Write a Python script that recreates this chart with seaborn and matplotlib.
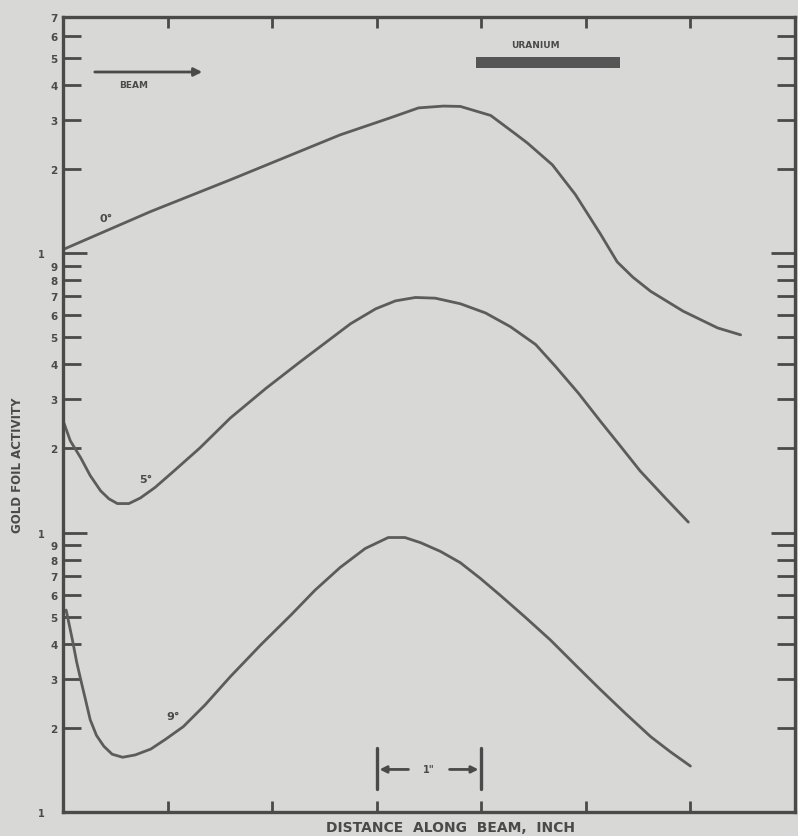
import numpy as np
import pandas as pd
import matplotlib
matplotlib.use("Agg")
import matplotlib.pyplot as plt
from matplotlib.ticker import FixedLocator, FixedFormatter
import seaborn as sns

# ---- data (distance in inches, gold foil activity, log scale) ----
x_0deg = [0.00, 0.84, 1.60, 2.65, 3.13, 3.40, 3.64, 3.80, 4.09, 4.31, 4.44, 4.68, 4.90, 5.14, 5.30, 5.45,
          5.62, 5.93, 6.26, 6.48]
y_0deg = [103, 141, 183, 265, 305, 331, 336, 335, 311, 270, 248, 207, 162, 117, 93, 82,
          73, 62, 54, 51]

x_5deg = [0.01, 0.07, 0.17, 0.26, 0.36, 0.44, 0.52, 0.63, 0.74, 0.88, 1.06, 1.31, 1.60, 1.94, 2.27, 2.56,
          2.75, 2.99, 3.18, 3.37, 3.56, 3.80, 4.04, 4.28, 4.52, 4.71, 4.93, 5.14, 5.33, 5.52, 5.76, 5.98]
y_5deg = [24.6, 21.3, 18.5, 16.0, 14.1, 13.2, 12.7, 12.7, 13.3, 14.5, 16.6, 20.1, 25.7, 32.8, 40.9, 49.4,
          55.9, 63.2, 67.5, 69.4, 69.0, 65.9, 61.1, 54.5, 47.1, 39.3, 31.5, 25.0, 20.4, 16.6, 13.3, 10.9]

x_9deg = [0.03, 0.09, 0.13, 0.17, 0.22, 0.26, 0.32, 0.39, 0.47, 0.57, 0.69, 0.84, 0.98, 1.15, 1.36, 1.60,
          1.89, 2.18, 2.41, 2.65, 2.89, 3.11, 3.27, 3.42, 3.61, 3.80, 3.99, 4.18, 4.42, 4.66, 4.90, 5.14,
          5.38, 5.62, 5.81, 6.00]
y_9deg = [5.28, 4.13, 3.45, 2.97, 2.48, 2.14, 1.88, 1.72, 1.61, 1.57, 1.60, 1.68, 1.82, 2.02, 2.42, 3.05,
          3.96, 5.07, 6.22, 7.5, 8.77, 9.6, 9.6, 9.2, 8.56, 7.8, 6.86, 5.97, 4.98, 4.13, 3.36, 2.74,
          2.25, 1.86, 1.64, 1.46]

curve_labels = ["0°", "5°", "9°"]
x_ticks = [1, 2, 3, 4, 5, 6]
decades = [1, 10, 100]
minor_digits = [2, 3, 4, 5, 6, 7, 8, 9]

BG = "#d8d8d6"
INK = "#4a4a4a"
LINE = "#5c5c5c"

sns.set_theme(style="white")
plt.rcParams["font.family"] = ["DejaVu Sans"]

fig = plt.figure(figsize=(7.98, 8.37), dpi=100, facecolor=BG)
ax = fig.add_axes([63 / 798, 1 - 813 / 837, (795 - 63) / 798, (813 - 18) / 837])
ax.set_facecolor(BG)

df = pd.concat([
    pd.DataFrame({"x": x_0deg, "y": y_0deg, "c": curve_labels[0]}),
    pd.DataFrame({"x": x_5deg, "y": y_5deg, "c": curve_labels[1]}),
    pd.DataFrame({"x": x_9deg, "y": y_9deg, "c": curve_labels[2]}),
])
for lab, sub in df.groupby("c", sort=False):
    sns.lineplot(data=sub, x="x", y="y", ax=ax, color=LINE, lw=2.0,
                 sort=False, estimator=None, legend=False,
                 solid_joinstyle="round", solid_capstyle="round")

ax.set_yscale("log")
ax.set_xlim(0, 7.0)
ax.set_ylim(1, 700)

# y ticks: decade "1" labels further out, digits 2..9 in between
major = list(decades)
minor = [d * m for m in decades for d in minor_digits if d * m <= 700]
ax.yaxis.set_major_locator(FixedLocator(major))
ax.yaxis.set_major_formatter(FixedFormatter(["1"] * len(major)))
ax.yaxis.set_minor_locator(FixedLocator(minor))
ax.yaxis.set_minor_formatter(FixedFormatter([str(int(round(v / 10 ** np.floor(np.log10(v))))) for v in minor]))
ax.tick_params(axis="y", which="major", direction="in", length=17, width=2.0,
               left=True, right=True, labelleft=True, labelright=False,
               pad=13, labelsize=7, colors=INK)
ax.tick_params(axis="y", which="minor", direction="in", length=13, width=2.0,
               left=True, right=True, labelleft=True, labelright=False,
               pad=4, labelsize=7.5, colors=INK)
for t in ax.yaxis.get_ticklabels(which="both"):
    t.set_fontweight("bold")

ax.set_xticks(x_ticks)
ax.tick_params(axis="x", which="major", direction="in", length=8, width=2.0,
               top=True, bottom=True, labelbottom=False, colors=INK)
ax.set_xlabel("")
ax.set_ylabel("")

for s in ax.spines.values():
    s.set_color(INK)
    s.set_linewidth(2.4)

# axis titles
fig.text(18 / 798, 1 - 465 / 837, "GOLD FOIL ACTIVITY", rotation=90, ha="center", va="center",
         fontsize=8.5, fontweight="bold", color=INK)
fig.text(450 / 798, 1 - 835 / 837, "DISTANCE  ALONG  BEAM,  INCH", ha="center", va="bottom",
         fontsize=10, fontweight="bold", color=INK)

# curve labels
for (tx, ty), lab in zip([(0.41, 134), (0.79, 15.6), (1.05, 2.2)], curve_labels):
    ax.text(tx, ty, lab, fontsize=8, fontweight="bold", color=INK, ha="center", va="center")

# beam arrow
ax.annotate("", xy=((205 - 63) / 732, 1 - (73 - 18) / 795), xytext=((92 - 63) / 732, 1 - (73 - 18) / 795),
            xycoords="axes fraction", textcoords="axes fraction",
            arrowprops=dict(arrowstyle="-|>", color=INK, lw=2.0, mutation_scale=12))
ax.text((134 - 63) / 732, 1 - (85 - 18) / 795, "BEAM", transform=ax.transAxes, ha="center", va="center",
        fontsize=6.5, fontweight="bold", color=INK)

# uranium bar
ax.text((535 - 63) / 732, 1 - (46 - 18) / 795, "URANIUM", transform=ax.transAxes, ha="center", va="center",
        fontsize=6.5, fontweight="bold", color=INK)
ax.add_patch(plt.Rectangle(((476 - 63) / 732, 1 - (69 - 18) / 795), (620 - 476) / 732, 11 / 795,
                           transform=ax.transAxes, color="#555555", lw=0))

# 1-inch scale bar
yb = 1.42
ax.plot([3, 3], [1.21, 1.70], color=INK, lw=2.4)
ax.plot([4, 4], [1.21, 1.70], color=INK, lw=2.4)
ax.annotate("", xy=(3.0, yb), xytext=(3.33, yb), arrowprops=dict(arrowstyle="-|>", color=INK, lw=2.0, mutation_scale=10))
ax.annotate("", xy=(4.0, yb), xytext=(3.67, yb), arrowprops=dict(arrowstyle="-|>", color=INK, lw=2.0, mutation_scale=10))
ax.text(3.5, yb, '1"', ha="center", va="center", fontsize=7, fontweight="bold", color=INK)

fig.savefig("out.png", dpi=100, facecolor=BG)
